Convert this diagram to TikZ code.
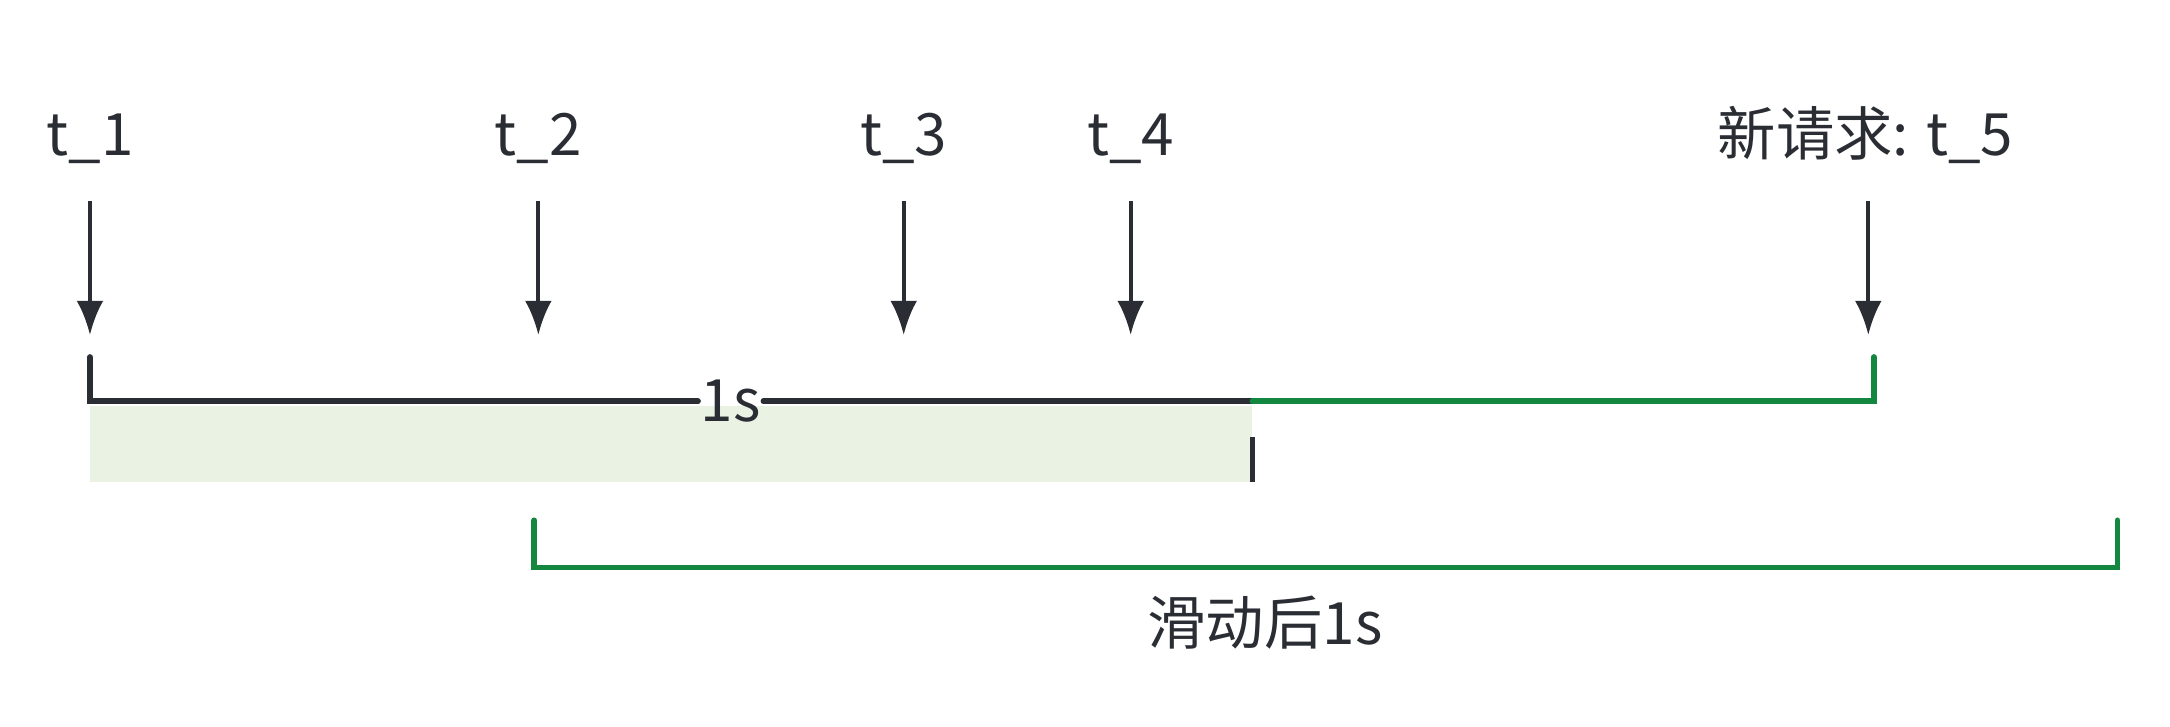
\documentclass[tikz,border=0pt]{standalone}
\usepackage{fontspec}
\setmainfont{Noto Sans CJK SC}
\usetikzlibrary{arrows.meta}
\definecolor{winGreen}{HTML}{13873F}
\definecolor{winShade}{HTML}{EAF2E3}
\definecolor{inkGray}{HTML}{2A2D33}
\begin{document}
\begin{tikzpicture}[x=0.02cm,y=-0.02cm,
    stamp/.style={font=\fontsize{24}{28}\selectfont, text=inkGray, inner sep=1pt},
    req/.style={draw=inkGray, line width=1.6pt, -{Latex[length=14pt,width=11pt]}},
    bar/.style={line width=2.4pt, line cap=round}]
  \useasboundingbox (0,0) rectangle (1568,525);
  % shaded window
  \fill[winShade] (65,293) rectangle (905,348);
  % request labels and arrows
  \foreach \x/\t/\lab in {65/1/t\_1, 389/2/t\_2, 653/3/t\_3, 817/4/t\_4}{
    \node[stamp] (t\t) at (\x,100) {\lab};
    \coordinate (a\t) at (\x,145);
    \coordinate (b\t) at (\x,242);
    \draw[req] (a\t) -- (b\t);
  }
  \node[stamp, anchor=base] (t5) at (1348,112) {新请求: t\_5};
  \coordinate (a5) at (1350,145);
  \coordinate (b5) at (1350,242);
  \draw[req] (a5) -- (b5);
  % old window
  \node[stamp] (one) at (528,290) {1s};
  \coordinate (L) at (65,290);
  \coordinate (M) at (905,290);
  \draw[bar, draw=inkGray] (65,258) -- (L) -- (one.west);
  \draw[bar, draw=inkGray] (one.east) -- (M);
  \draw[line width=1.8pt, draw=inkGray] (905,316) -- (905,348);
  % slid window
  \draw[bar, draw=winGreen] (M) -- (1354,290) -- (1354,258);
  \draw[bar, draw=winGreen] (386,376) -- (386,410) -- (1530,410) -- (1530,376);
  \node[stamp] (slid) at (914,450) {滑动后1s};
\end{tikzpicture}
\end{document}
